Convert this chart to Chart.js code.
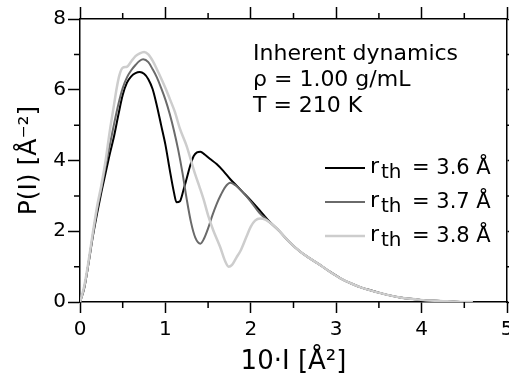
<!DOCTYPE html>
<html>
<head>
<meta charset="utf-8">
<script src="https://cdn.jsdelivr.net/npm/chart.js@4"></script>
<style>
  html, body { margin: 0; padding: 0; background: #fff; }
</style>
</head>
<body>
<canvas id="chartP" width="509" height="381"></canvas>
<script>
// r_th = 3.6 A
const x36 = [0, 0.05, 0.1, 0.15, 0.2, 0.25, 0.3, 0.35, 0.4, 0.45, 0.5, 0.55, 0.6, 0.65, 0.7, 0.75, 0.8, 0.85, 0.9, 0.95,
             1.0, 1.05, 1.1, 1.13, 1.17, 1.21, 1.25, 1.29, 1.33, 1.37, 1.41, 1.46, 1.52, 1.6, 1.68, 1.76, 1.82, 1.9, 2.0, 2.1,
             2.2, 2.34, 2.45, 2.58, 2.7, 2.81, 2.93, 3.05, 3.17, 3.28, 3.4, 3.52, 3.64, 3.75, 3.87, 3.99, 4.1, 4.22, 4.4, 4.6];
const p36 = [0, 0.4, 1.1, 1.85, 2.5, 3.1, 3.65, 4.2, 4.7, 5.3, 5.85, 6.2, 6.38, 6.47, 6.5, 6.45, 6.3, 6.02, 5.55, 5.0,
             4.45, 3.75, 3.1, 2.82, 2.85, 3.15, 3.5, 3.85, 4.12, 4.23, 4.25, 4.17, 4.05, 3.9, 3.7, 3.47, 3.32, 3.12, 2.87, 2.6,
             2.32, 1.99, 1.7, 1.42, 1.22, 1.05, 0.85, 0.67, 0.53, 0.42, 0.33, 0.25, 0.18, 0.13, 0.09, 0.06, 0.04, 0.03, 0.01, 0];
// r_th = 3.7 A
const x37 = [0, 0.05, 0.1, 0.15, 0.2, 0.25, 0.3, 0.35, 0.4, 0.45, 0.5, 0.55, 0.6, 0.65, 0.7, 0.74, 0.8, 0.85, 0.9, 0.95,
             1.0, 1.05, 1.1, 1.15, 1.2, 1.25, 1.3, 1.35, 1.41, 1.45, 1.5, 1.55, 1.6, 1.65, 1.7, 1.76, 1.82, 1.9, 2.0, 2.1,
             2.2, 2.34, 2.45, 2.58, 2.7, 2.81, 2.93, 3.05, 3.17, 3.28, 3.4, 3.52, 3.64, 3.75, 3.87, 3.99, 4.1, 4.22, 4.4, 4.6];
const p37 = [0, 0.4, 1.1, 1.9, 2.6, 3.2, 3.85, 4.45, 5.05, 5.6, 6.05, 6.35, 6.55, 6.7, 6.82, 6.86, 6.78, 6.58, 6.35, 6.05,
             5.72, 5.32, 4.85, 4.3, 3.65, 2.9, 2.25, 1.82, 1.65, 1.78, 2.08, 2.45, 2.77, 3.03, 3.25, 3.37, 3.3, 3.12, 2.84, 2.52,
             2.3, 1.99, 1.7, 1.42, 1.22, 1.05, 0.85, 0.67, 0.53, 0.42, 0.33, 0.25, 0.18, 0.13, 0.09, 0.06, 0.04, 0.03, 0.01, 0];
// r_th = 3.8 A
const x38 = [0, 0.05, 0.1, 0.15, 0.2, 0.25, 0.3, 0.35, 0.4, 0.43, 0.46, 0.5, 0.55, 0.6, 0.65, 0.7, 0.75, 0.8, 0.85, 0.9,
             0.96, 1.0, 1.05, 1.11, 1.17, 1.25, 1.3, 1.35, 1.4, 1.45, 1.5, 1.56, 1.64, 1.7, 1.74, 1.78, 1.83, 1.88, 1.95, 2.0,
             2.05, 2.11, 2.17, 2.25, 2.34, 2.45, 2.58, 2.7, 2.81, 2.93, 3.05, 3.17, 3.28, 3.4, 3.52, 3.64, 3.75, 3.87, 3.99, 4.1,
             4.22, 4.4, 4.6];
const p38 = [0, 0.45, 1.15, 1.95, 2.7, 3.3, 4.0, 4.85, 5.6, 6.05, 6.4, 6.62, 6.65, 6.8, 6.95, 7.03, 7.07, 7.0, 6.82, 6.58,
             6.27, 6.05, 5.75, 5.38, 4.9, 4.4, 4.0, 3.6, 3.25, 2.88, 2.45, 2.03, 1.56, 1.15, 1.0, 1.05, 1.25, 1.45, 1.85, 2.13,
             2.3, 2.36, 2.33, 2.2, 1.99, 1.7, 1.42, 1.22, 1.05, 0.85, 0.67, 0.53, 0.42, 0.33, 0.25, 0.18, 0.13, 0.09, 0.06, 0.04,
             0.03, 0.01, 0];

const rthValues = ['3.6', '3.7', '3.8'];
const xMinorTicks = [0.5, 1.5, 2.5, 3.5, 4.5];
const yMinorTicks = [1, 3, 5, 7];
const noteLines = ['Inherent dynamics', 'ρ = 1.00 g/mL', 'T = 210 K'];

const FONT = 'DejaVu Sans';
Chart.defaults.font.family = FONT;
Chart.defaults.color = '#000';

function pts(xs, ys) {
    return xs.map((x, i) => ({ x: x, y: ys[i] }));
}

// minor ticks, note text and the hand-made legend
const extras = {
    id: 'extras',
    afterDraw(chart) {
        const ctx = chart.ctx;
        const a = chart.chartArea;
        const sx = chart.scales.x, sy = chart.scales.y;
        ctx.save();
        ctx.strokeStyle = '#000';
        ctx.lineWidth = 1.5;
        ctx.beginPath();
        xMinorTicks.forEach(v => {
            const px = sx.getPixelForValue(v);
            ctx.moveTo(px, a.bottom); ctx.lineTo(px, a.bottom + 6);
            ctx.moveTo(px, a.top); ctx.lineTo(px, a.top - 6);
        });
        yMinorTicks.forEach(v => {
            const py = sy.getPixelForValue(v);
            ctx.moveTo(a.left, py); ctx.lineTo(a.left - 6, py);
            ctx.moveTo(a.right, py); ctx.lineTo(a.right + 6, py);
        });
        ctx.stroke();

        ctx.fillStyle = '#000';
        ctx.textBaseline = 'alphabetic';
        ctx.textAlign = 'left';
        ctx.font = '22px "' + FONT + '"';
        noteLines.forEach((t, i) => ctx.fillText(t, 253, 60 + 26 * i));

        chart.data.datasets.forEach((ds, i) => {
            const y = 168 + 34 * i;
            ctx.strokeStyle = ds.borderColor;
            ctx.lineWidth = ds.borderWidth;
            ctx.beginPath();
            ctx.moveTo(325, y); ctx.lineTo(365, y);
            ctx.stroke();
            ctx.font = '22px "' + FONT + '"';
            ctx.fillText('r', 370, y + 5);
            ctx.font = '20px "' + FONT + '"';
            ctx.fillText('th', 381, y + 10);
            ctx.font = '21px "' + FONT + '"';
            ctx.fillText('= ' + rthValues[i] + ' Å', 412, y + 6);
        });
        ctx.restore();
    }
};

const axisBorder = { color: '#000', width: 1.5 };

new Chart(document.getElementById('chartP'), {
    type: 'line',
    data: {
        datasets: [
            { label: 'rth = 3.6 Å', data: pts(x36, p36), borderColor: '#000000', borderWidth: 2, order: 3 },
            { label: 'rth = 3.7 Å', data: pts(x37, p37), borderColor: '#6a6a6a', borderWidth: 2, order: 2 },
            { label: 'rth = 3.8 Å', data: pts(x38, p38), borderColor: '#cdcdcd', borderWidth: 2.5, order: 1 }
        ]
    },
    options: {
        responsive: false,
        animation: false,
        devicePixelRatio: 1,
        layout: { padding: 0 },
        elements: {
            point: { radius: 0 },
            line: { cubicInterpolationMode: 'monotone', fill: false }
        },
        plugins: {
            legend: { display: false },
            tooltip: { enabled: false }
        },
        scales: {
            x: {
                type: 'linear', position: 'bottom', min: 0, max: 5,
                ticks: { stepSize: 1, font: { size: 20 }, padding: 5, maxRotation: 0 },
                grid: { drawOnChartArea: false, tickLength: 11, tickWidth: 1.5, tickColor: '#000' },
                border: axisBorder,
                title: { display: true, text: '10·I [Å²]', font: { size: 26 }, padding: { top: 0, bottom: 3 } },
                afterFit: s => { s.height = 79; s.paddingLeft = 0; s.paddingRight = 0; }
            },
            x2: {
                type: 'linear', position: 'top', min: 0, max: 5,
                ticks: { stepSize: 1, display: false },
                grid: { drawOnChartArea: false, tickLength: 12, tickWidth: 1.5, tickColor: '#000' },
                border: axisBorder,
                afterFit: s => { s.height = 19; s.paddingLeft = 0; s.paddingRight = 0; }
            },
            y: {
                type: 'linear', position: 'left', min: 0, max: 8,
                ticks: { stepSize: 2, font: { size: 20 }, padding: 2 },
                grid: { drawOnChartArea: false, tickLength: 12, tickWidth: 1.5, tickColor: '#000' },
                border: axisBorder,
                title: { display: true, text: 'P(I) [Å⁻²]', font: { size: 25 }, padding: { top: 14, bottom: 0 } },
                afterFit: s => { s.width = 80; s.paddingTop = 0; s.paddingBottom = 0; }
            },
            y2: {
                type: 'linear', position: 'right', min: 0, max: 8,
                ticks: { stepSize: 2, display: false },
                grid: { drawOnChartArea: false, tickLength: 12, tickWidth: 1.5, tickColor: '#000' },
                border: axisBorder,
                afterFit: s => { s.width = 2; s.paddingTop = 0; s.paddingBottom = 0; }
            }
        }
    },
    plugins: [extras]
});
</script>
</body>
</html>
